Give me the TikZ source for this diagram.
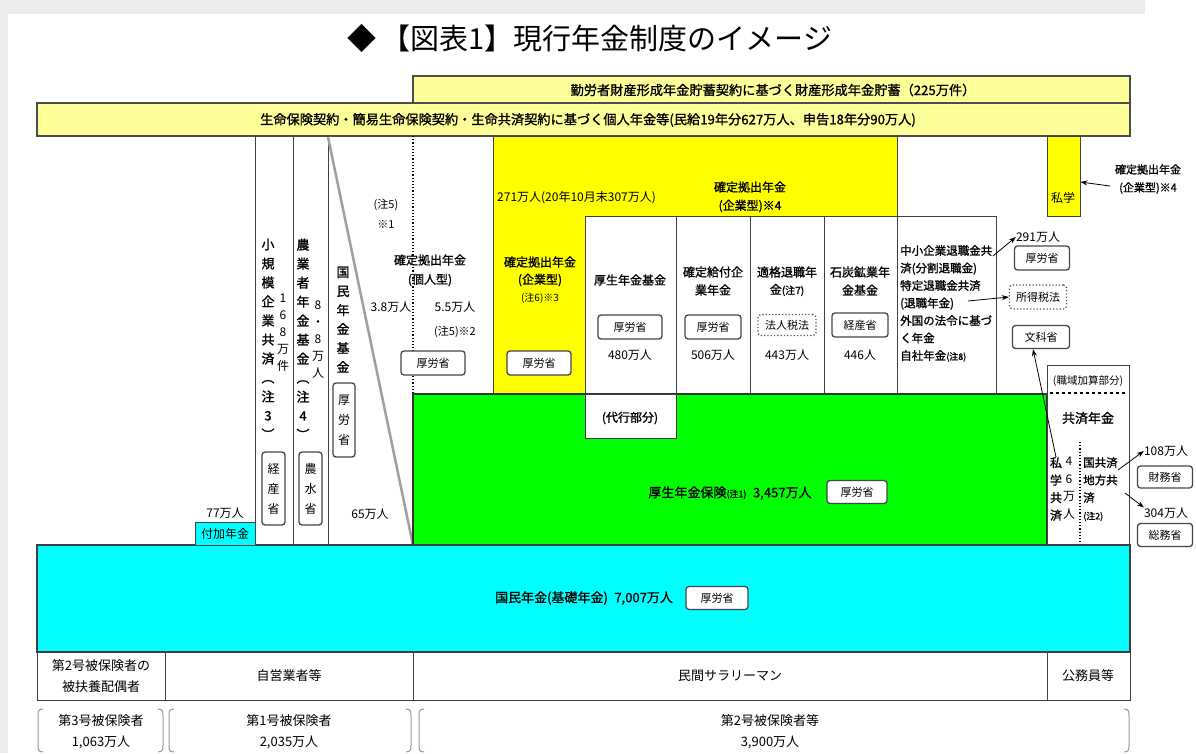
\documentclass[tikz,border=0pt]{standalone}
\usepackage{fontspec}
\setmainfont{Noto Sans CJK JP}
\newfontfamily\jpb{Noto Sans CJK JP}[FakeBold=1.2]
\usetikzlibrary{arrows.meta}
\newcommand\fs[2]{\fontsize{#1}{#2}\selectfont}
\definecolor{paley}{HTML}{FFFF99}
\definecolor{dcy}{HTML}{FFFF00}
\definecolor{grn}{HTML}{00FF00}
\definecolor{cyn}{HTML}{00FFFF}
\definecolor{bggray}{HTML}{EBEBEB}
\newcommand\lpar[1]{\draw[brk] (#1+5,709) .. controls (#1,709) and (#1,712) .. (#1,716) -- (#1,745) .. controls (#1,749) and (#1,752) .. (#1+5,752);}
\newcommand\rpar[1]{\draw[brk] (#1-5,709) .. controls (#1,709) and (#1,712) .. (#1,716) -- (#1,745) .. controls (#1,749) and (#1,752) .. (#1-5,752);}
\begin{document}
\begin{tikzpicture}[x=1pt,y=-1pt,
  t/.style={inner sep=0pt, font=\fs{12}{14}},
  tb/.style={inner sep=0pt, font=\jpb\fs{12}{14}},
  vt/.style={inner sep=0pt, align=center, anchor=north, font=\jpb\fs{13}{19}},
  mb/.style={draw=gray!55!black, line width=1.3pt, rounded corners=3pt, fill=white, inner sep=0pt, font=\fs{11}{13}},
  db/.style={draw=gray!70!black, dotted, line width=1.3pt, rounded corners=3pt, fill=white, inner sep=0pt, font=\fs{11}{13}},
  ar/.style={-{Stealth[length=7pt,width=5pt]}, line width=0.8pt},
  bar/.style={draw=black!70, line width=1.6pt},
  cell/.style={draw=black!75, line width=0.8pt},
  brk/.style={draw=gray!80, line width=1pt},
]
\useasboundingbox (0,0) rectangle (1196,753);
\fill[white] (0,0) rectangle (1196,753);
\fill[bggray] (0,0) rectangle (1145,14);
\fill[bggray] (0,14) rectangle (8,753);

% title
\node[inner sep=0pt, font=\fs{29}{32}] (title) at (590,38) {◆\,【図表1】現行年金制度のイメージ};

% top bars
\draw[bar, fill=paley] (413,76) rectangle (1130,103);
\node[tb, font=\jpb\fs{13.2}{15}] (zaikei) at (773,90) {勤労者財産形成年金貯蓄契約に基づく財産形成年金貯蓄（225万件）};
\draw[bar, fill=paley] (37,103) rectangle (1130,136);
\node[tb, font=\jpb\fs{13.2}{15}] (kojin) at (588,120) {生命保険契約・簡易生命保険契約・生命共済契約に基づく個人年金等(民給19年分627万人、申告18年分90万人)};

% column lines
\draw[cell] (255,136) -- (255,545);
\draw[cell] (293,136) -- (293,545);
\draw[cell] (328,136) -- (328,545);
\draw[gray!75, line width=2.5pt] (328,137) -- (413,545);
\draw[dotted, line width=1.2pt] (413,136) -- (413,394);

% yellow DC region
\filldraw[fill=dcy, draw=black!75, line width=0.8pt] (493,136) -- (897,136) -- (897,216) -- (585,216) -- (585,394) -- (493,394) -- cycle;
\draw[cell] (585,216) rectangle (676,394);
\draw[cell] (676,216) rectangle (750,394);
\draw[cell] (750,216) rectangle (824,394);
\draw[cell] (824,216) rectangle (897,394);
\draw[cell] (897,216) rectangle (996,394);

% private school yellow
\node[draw=black!75, line width=0.8pt, fill=dcy, minimum width=33pt, minimum height=80pt, inner sep=0pt] (shigakuY) at (1063.5,176) {};
\node[t] (shigakuT) at (1063,198) {私学};

% green
\filldraw[fill=grn, draw=black!80, line width=1.2pt] (413,394) rectangle (1047,545);
\filldraw[fill=white, draw=black!75, line width=0.8pt] (585,394) rectangle (676,438);
\node[tb] (daiko) at (630,418) {(代行部分)};
\node[tb, font=\jpb\fs{13}{15}] (kosei) at (730,493) {厚生年金保険{\fs{9}{9}(注1)}\enspace 3,457万人};
\node[mb, minimum width=60pt, minimum height=23pt] (mhlw6) at (857,492) {厚労省};

% kyosai box
\draw[cell] (1047,365) rectangle (1129,545);
\draw[dashed, line width=1.2pt] (1050,393) -- (1127,393);
\draw[dotted, line width=1.2pt] (1080,442) -- (1080,545);
\node[t, font=\fs{10.5}{12}] (shokuiki) at (1088,381) {(職域加算部分)};
\node[tb, font=\jpb\fs{13}{15}] (kyosai) at (1088,418) {共済年金};
\node[vt, font=\jpb\fs{12}{17.5}] (shigaku) at (1056,457) {私\\学\\共\\済};
\node[vt, font=\fs{12}{17.5}] (n46) at (1069,457) {4\\6\\万\\人};
\node[inner sep=0pt, anchor=north west, align=left, font=\jpb\fs{11.5}{17.5}] (kokyo) at (1083,457) {国共済\\地方共\\済\\{\fs{9}{9}(注2)}};

% cyan
\filldraw[fill=cyn, draw=black!75, line width=2pt] (37,545) rectangle (1130,652);
\node[tb, font=\jpb\fs{13}{15}] (kokumin) at (584,598) {国民年金(基礎年金)\enspace 7,007万人};
\node[mb, minimum width=62pt, minimum height=23pt] (mhlw7) at (717,598) {厚労省};

\node[draw=black!75, line width=0.8pt, fill=cyn, minimum width=60pt, minimum height=23pt, inner sep=0pt, font=\fs{12}{14}] (fuka) at (225,533.5) {付加年金};
\node[t] (n77) at (225,513) {77万人};
\node[t] (n65) at (370,514) {65万人};

% vertical columns
\node[vt] (shokibo) at (268,238.5) {小\\規\\模\\企\\業\\共\\済\\︵\\注\\3\\︶};
\node[vt, font=\fs{12}{17}] (n168) at (283,294) {1\\6\\8\\万\\件};
\node[draw=gray!55!black, line width=1.3pt, rounded corners=3pt, minimum width=23pt, minimum height=73pt, inner sep=0pt] (meti2) at (273.5,488.5) {};
\node[inner sep=0pt, align=center, font=\fs{12}{20}] (meti2t) at (273.5,488.5) {経\\産\\省};
\node[vt] (nogyo) at (303,238.5) {農\\業\\者\\年\\金\\基\\金\\︵\\注\\4\\︶};
\node[vt, font=\fs{12}{17}] (n88) at (318,301) {8\\・\\8\\万\\人};
\node[draw=gray!55!black, line width=1.3pt, rounded corners=3pt, minimum width=23pt, minimum height=73pt, inner sep=0pt] (maff) at (310.5,488.5) {};
\node[inner sep=0pt, align=center, font=\fs{12}{20}] (mafft) at (310.5,488.5) {農\\水\\省};
\node[vt] (kikinK) at (343,266.5) {国\\民\\年\\金\\基\\金};
\node[draw=gray!55!black, line width=1.3pt, rounded corners=3pt, minimum width=22pt, minimum height=74pt, inner sep=0pt] (mhlwv) at (344,420) {};
\node[inner sep=0pt, align=center, font=\fs{12}{20}] (mhlwvt) at (344,420) {厚\\労\\省};

% DC personal
\node[t, font=\fs{11}{13}] (n5a) at (386,205) {(注5)};
\node[t, font=\fs{11}{13}] (k1) at (386,224) {※1};
\node[tb] (dcp1) at (430,260) {確定拠出年金};
\node[tb] (dcp2) at (430,280) {(個人型)};
\node[t] (n38) at (391,307) {3.8万人};
\node[t] (n55) at (455,307) {5.5万人};
\node[t, font=\fs{11}{13}] (k2) at (455,332) {(注5)※2};
\node[mb, minimum width=64pt, minimum height=24pt] (mhlw1) at (433,363) {厚労省};

% DC corporate
\node[t, anchor=west] (n271) at (497,198) {271万人(20年10月末307万人)};
\node[tb] (dcc1) at (750,187) {確定拠出年金};
\node[tb] (dcc2) at (750,206) {(企業型)※4};
\node[tb] (dcl1) at (540,262) {確定拠出年金};
\node[tb] (dcl2) at (540,280) {(企業型)};
\node[t, font=\fs{10}{12}] (dcl3) at (540,298) {(注6)※3};
\node[mb, minimum width=64pt, minimum height=24pt] (mhlw2) at (539,363) {厚労省};

% white boxes
\node[tb] (kikin) at (630,280) {厚生年金基金};
\node[mb, minimum width=64pt, minimum height=24pt] (mhlw3) at (630,327) {厚労省};
\node[t] (n480) at (630,355) {480万人};
\node[tb] (db1) at (713,272) {確定給付企};
\node[tb] (db2) at (713,290) {業年金};
\node[mb, minimum width=56pt, minimum height=24pt] (mhlw4) at (713,327) {厚労省};
\node[t] (n506) at (713,355) {506万人};
\node[tb] (tq1) at (787,272) {適格退職年};
\node[tb] (tq2) at (787,290) {金{\fs{10}{12}(注7)}};
\node[db, minimum width=58pt, minimum height=21pt] (hojin) at (787,325) {法人税法};
\node[t] (n443) at (787,355) {443万人};
\node[tb] (sk1) at (860,272) {石炭鉱業年};
\node[tb] (sk2) at (860,290) {金基金};
\node[mb, minimum width=56pt, minimum height=24pt] (meti1) at (860,325) {経産省};
\node[t] (n446) at (860,355) {446人};

% SME etc
\node[inner sep=0pt, anchor=north west, align=left, font=\jpb\fs{11.5}{17.5}] (chusho) at (900,245) {中小企業退職金共\\済(分割退職金)\\特定退職金共済\\(退職年金)\\外国の法令に基づ\\く年金\\自社年金{\fs{9}{9}(注8)}};
\coordinate (c291) at (993,256);
\coordinate (ctok) at (968,301);
\node[t] (n291) at (1038,237) {291万人};
\node[mb, minimum width=55pt, minimum height=24pt] (mhlw5) at (1042,258) {厚労省};
\node[db, minimum width=57pt, minimum height=24pt] (shotoku) at (1038,297) {所得税法};
\node[mb, minimum width=57pt, minimum height=23pt] (monka) at (1041,337) {文科省};
\draw[ar] (c291) -- (n291.west);
\draw[ar] (ctok) -- (shotoku.west);
\draw[ar] (shigaku.north) -- ([xshift=-8pt]monka.south);

% DC note right
\node[inner sep=0pt, align=center, font=\jpb\fs{11}{18}] (dcnote) at (1148,179) {確定拠出年金\\(企業型)※4};
\coordinate (cdc) at (1110,186);
\draw[ar] (cdc) -- ([yshift=-6pt]shigakuY.east);

% kyosai arrows
\node[t] (n108) at (1166,451) {108万人};
\node[mb, minimum width=55pt, minimum height=22pt] (mof) at (1165,477) {財務省};
\node[t] (n304) at (1166,513) {304万人};
\node[mb, minimum width=55pt, minimum height=23pt] (mic) at (1165,535) {総務省};
\coordinate (kk1) at (1118,470);
\coordinate (kk2) at (1125,493);
\draw[ar] (kk1) -- (n108.west);
\draw[ar] (kk2) -- (n304.north west);

% bottom rows
\draw[cell] (37,652) rectangle (1130,700);
\draw[cell] (165,652) -- (165,700);
\draw[cell] (413,652) -- (413,700);
\draw[cell] (1047,652) -- (1047,700);
\node[inner sep=0pt, align=center, font=\fs{13}{21}] (r1) at (101,676) {第2号被保険者の\\被扶養配偶者};
\node[inner sep=0pt, font=\fs{13}{15}] (r2) at (289,676) {自営業者等};
\node[inner sep=0pt, font=\fs{13}{15}] (r3) at (730,676) {民間サラリーマン};
\node[inner sep=0pt, font=\fs{13}{15}] (r4) at (1088,676) {公務員等};

\lpar{38}\rpar{163}\lpar{169}\rpar{411}\lpar{419}\rpar{1129}
\node[inner sep=0pt, align=center, font=\fs{13}{21}] (b1) at (101,732) {第3号被保険者\\1,063万人};
\node[inner sep=0pt, align=center, font=\fs{13}{21}] (b2) at (289,732) {第1号被保険者\\2,035万人};
\node[inner sep=0pt, align=center, font=\fs{13}{21}] (b3) at (770,732) {第2号被保険者等\\3,900万人};
\end{tikzpicture}
\end{document}
